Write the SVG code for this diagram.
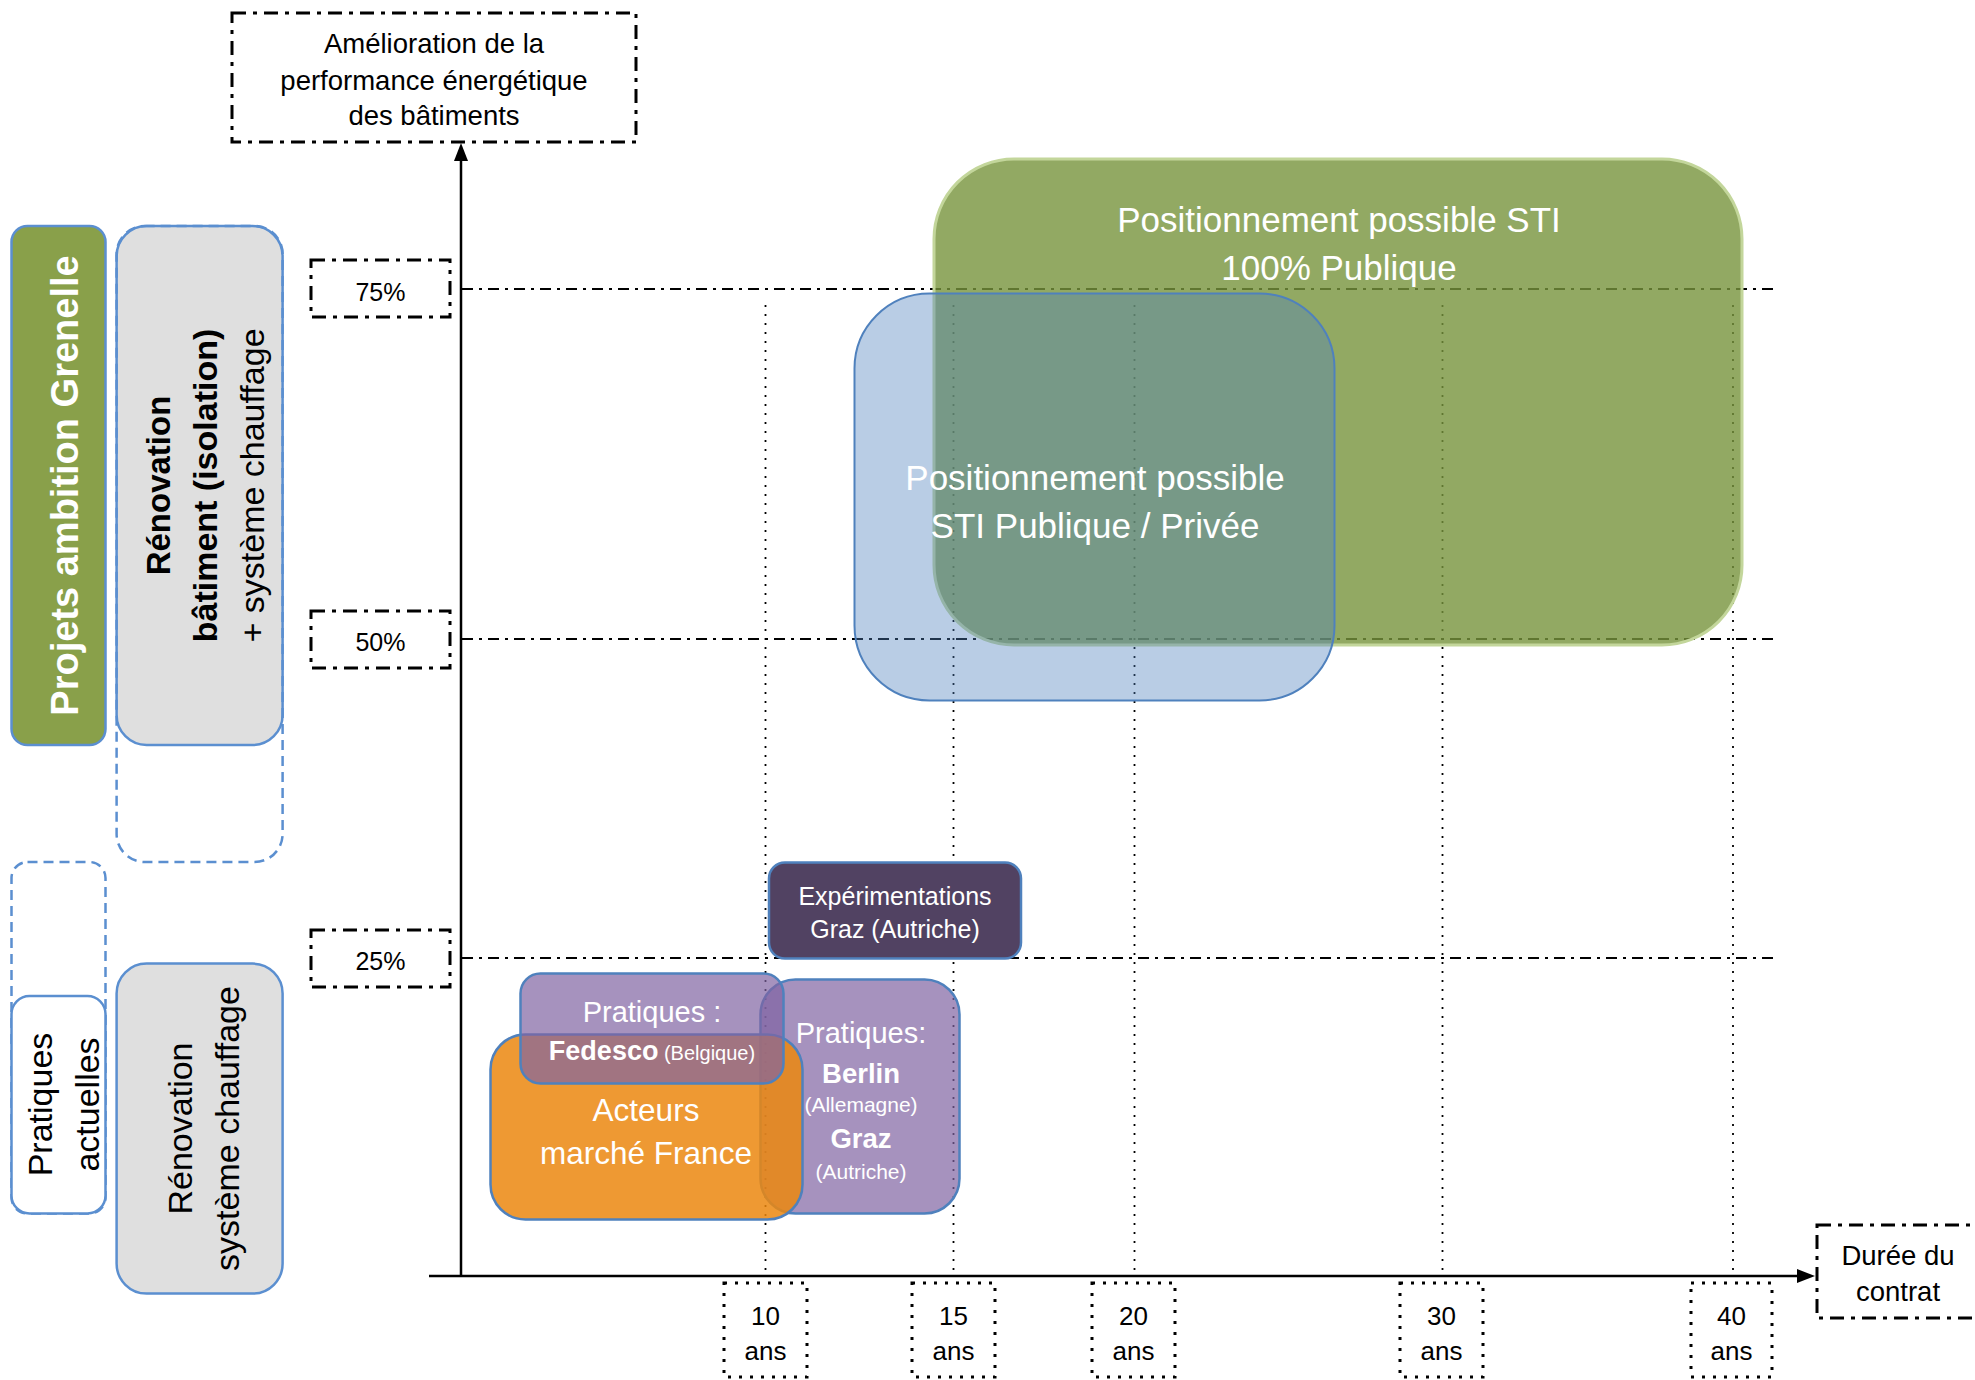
<svg xmlns="http://www.w3.org/2000/svg" width="1975" height="1380" viewBox="0 0 1975 1380">
<style>
text{font-family:"Liberation Sans",Arial,sans-serif;}
.w{fill:#fff;}
.k{fill:#000;}
.m{text-anchor:middle;}
.b{font-weight:bold;}
.dd{fill:none;stroke:#000;stroke-width:3;stroke-dasharray:14 7 4 7;}
.dot{fill:none;stroke:#000;stroke-width:3;stroke-dasharray:3 8;}
.gh{stroke:#000;stroke-width:1.8;stroke-dasharray:11 6 3 6;fill:none;}
.gv{stroke:#000;stroke-width:1.8;stroke-dasharray:2 7;fill:none;}
.blue{stroke:#4F81BD;stroke-width:2.5;}
.lb{stroke:#5B8FD0;stroke-width:2.5;}
.dash{fill:none;stroke:#5B8FD0;stroke-width:2.5;stroke-dasharray:10 6;}
.gray{fill:#DFDFDF;}
</style>
<rect width="1975" height="1380" fill="#fff"/>

<g id="grid">
<line class="gh" x1="462" y1="289" x2="1775" y2="289"/>
<line class="gh" x1="462" y1="639" x2="1775" y2="639"/>
<line class="gh" x1="462" y1="958" x2="1775" y2="958"/>
<line class="gv" x1="765.5" y1="305" x2="765.5" y2="1276"/>
<line class="gv" x1="953.5" y1="305" x2="953.5" y2="1276"/>
<line class="gv" x1="1134.5" y1="305" x2="1134.5" y2="1276"/>
<line class="gv" x1="1442.5" y1="305" x2="1442.5" y2="1276"/>
<line class="gv" x1="1733" y1="305" x2="1733" y2="1276"/>
</g>

<g id="connectors">
<line x1="461" y1="1276" x2="461" y2="158" stroke="#000" stroke-width="2.5"/>
<polygon points="461,143 454,161 468,161" fill="#000"/>
<line x1="429" y1="1276" x2="1800" y2="1276" stroke="#000" stroke-width="2.5"/>
<polygon points="1815,1276 1797,1269 1797,1283" fill="#000"/>
</g>

<g id="axis-y-label">
<rect class="dd" x="232" y="13" width="404" height="129"/>
<text class="k m" x="434" y="53" font-size="27.5">Amélioration de la</text>
<text class="k m" x="434" y="90" font-size="27.5">performance énergétique</text>
<text class="k m" x="434" y="125" font-size="27.5">des bâtiments</text>
</g>

<g id="pct75">
<rect class="dd" x="311" y="260" width="139" height="57"/>
<text class="k m" x="380.5" y="301" font-size="25">75%</text>
</g>
<g id="pct50">
<rect class="dd" x="311" y="611" width="139" height="57"/>
<text class="k m" x="380.5" y="650.5" font-size="25">50%</text>
</g>
<g id="pct25">
<rect class="dd" x="311" y="930" width="139" height="57"/>
<text class="k m" x="380.5" y="970" font-size="25">25%</text>
</g>

<g id="grenelle">
<rect x="11.5" y="226" width="94" height="519" rx="16" fill="#89A04A" class="lb"/>
<text class="w m b" font-size="38" transform="translate(78,485.5) rotate(-90)">Projets ambition Grenelle</text>
</g>

<g id="renovation-batiment">
<rect class="gray lb" x="116.6" y="226" width="166" height="519" rx="30"/>
<rect class="dash" x="116.6" y="226" width="166" height="636" rx="28"/>
<text class="k m b" font-size="33" transform="translate(170,485.5) rotate(-90)">Rénovation</text>
<text class="k m b" font-size="34" transform="translate(216.5,485.5) rotate(-90)">bâtiment (isolation)</text>
<text class="k m" font-size="34" transform="translate(264,485.5) rotate(-90)">+ système chauffage</text>
</g>

<g id="pratiques-actuelles">
<rect class="dash" x="11.5" y="862" width="94" height="351.5" rx="16"/>
<rect x="11.5" y="996" width="94" height="217.5" rx="18" fill="#fff" class="lb"/>
<text class="k m" font-size="34" transform="translate(52,1104.5) rotate(-90)">Pratiques</text>
<text class="k m" font-size="34" transform="translate(99,1104.5) rotate(-90)">actuelles</text>
</g>

<g id="renovation-chauffage">
<rect class="gray lb" x="116.6" y="963.6" width="166" height="330" rx="30"/>
<text class="k m" font-size="34" transform="translate(192,1128.5) rotate(-90)">Rénovation</text>
<text class="k m" font-size="34" transform="translate(238.5,1128.5) rotate(-90)">système chauffage</text>
</g>

<g id="sti-publique">
<rect x="934" y="159" width="808" height="486" rx="80" fill="#77933C" fill-opacity="0.8" stroke="#C3D69B" stroke-width="3"/>
<text class="w m" x="1339" y="232" font-size="35">Positionnement possible STI</text>
<text class="w m" x="1339" y="280" font-size="35">100% Publique</text>
</g>

<g id="sti-publique-privee">
<rect x="854.5" y="293.5" width="480" height="407" rx="75" fill="#4F81BD" fill-opacity="0.4" stroke="#4F81BD" stroke-width="2"/>
<text class="w m" x="1095" y="490" font-size="35">Positionnement possible</text>
<text class="w m" x="1095" y="538" font-size="35">STI Publique / Privée</text>
</g>

<g id="experimentations-graz">
<rect x="769" y="862.5" width="252" height="96" rx="16" fill="#514262" class="blue"/>
<text class="w m" x="895" y="905" font-size="25">Expérimentations</text>
<text class="w m" x="895" y="938" font-size="25">Graz (Autriche)</text>
</g>

<g id="pratiques-berlin-graz">
<rect x="760.5" y="979.5" width="199" height="234" rx="35" fill="#8064A2" fill-opacity="0.7" class="blue"/>
<text class="w m" x="861" y="1043" font-size="29">Pratiques:</text>
<text class="w m b" x="861" y="1083" font-size="27.5">Berlin</text>
<text class="w m" x="861" y="1112" font-size="21">(Allemagne)</text>
<text class="w m b" x="861" y="1148" font-size="27.5">Graz</text>
<text class="w m" x="861" y="1179" font-size="21">(Autriche)</text>
</g>

<g id="acteurs-france">
<rect x="490.5" y="1034.5" width="312" height="185" rx="35" fill="#EB870F" fill-opacity="0.85" class="blue"/>
<text class="w m" x="646" y="1121" font-size="31.5">Acteurs</text>
<text class="w m" x="646" y="1164" font-size="31.5">marché France</text>
</g>

<g id="pratiques-fedesco">
<rect x="520.5" y="973.5" width="263" height="110" rx="20" fill="#8064A2" fill-opacity="0.7" class="blue"/>
<text class="w m" x="652" y="1022" font-size="29">Pratiques :</text>
<text class="w m" x="652" y="1060"><tspan class="b" font-size="27">Fedesco</tspan><tspan font-size="20"> (Belgique)</tspan></text>
</g>

<g id="y10">
<rect class="dot" x="724" y="1283" width="83" height="94"/>
<text class="k m" x="765.5" y="1325" font-size="26">10</text>
<text class="k m" x="765.5" y="1360" font-size="26">ans</text>
</g>
<g id="y15">
<rect class="dot" x="912" y="1283" width="83" height="94"/>
<text class="k m" x="953.5" y="1325" font-size="26">15</text>
<text class="k m" x="953.5" y="1360" font-size="26">ans</text>
</g>
<g id="y20">
<rect class="dot" x="1092" y="1283" width="83" height="94"/>
<text class="k m" x="1133.5" y="1325" font-size="26">20</text>
<text class="k m" x="1133.5" y="1360" font-size="26">ans</text>
</g>
<g id="y30">
<rect class="dot" x="1400" y="1283" width="83" height="94"/>
<text class="k m" x="1441.5" y="1325" font-size="26">30</text>
<text class="k m" x="1441.5" y="1360" font-size="26">ans</text>
</g>
<g id="y40">
<rect class="dot" x="1691" y="1283" width="81" height="94"/>
<text class="k m" x="1731.5" y="1325" font-size="26">40</text>
<text class="k m" x="1731.5" y="1360" font-size="26">ans</text>
</g>

<g id="axis-x-label">
<rect class="dd" x="1817" y="1225" width="175" height="93"/>
<text class="k m" x="1898" y="1265" font-size="27.5">Durée du</text>
<text class="k m" x="1898" y="1301" font-size="27.5">contrat</text>
</g>
</svg>
